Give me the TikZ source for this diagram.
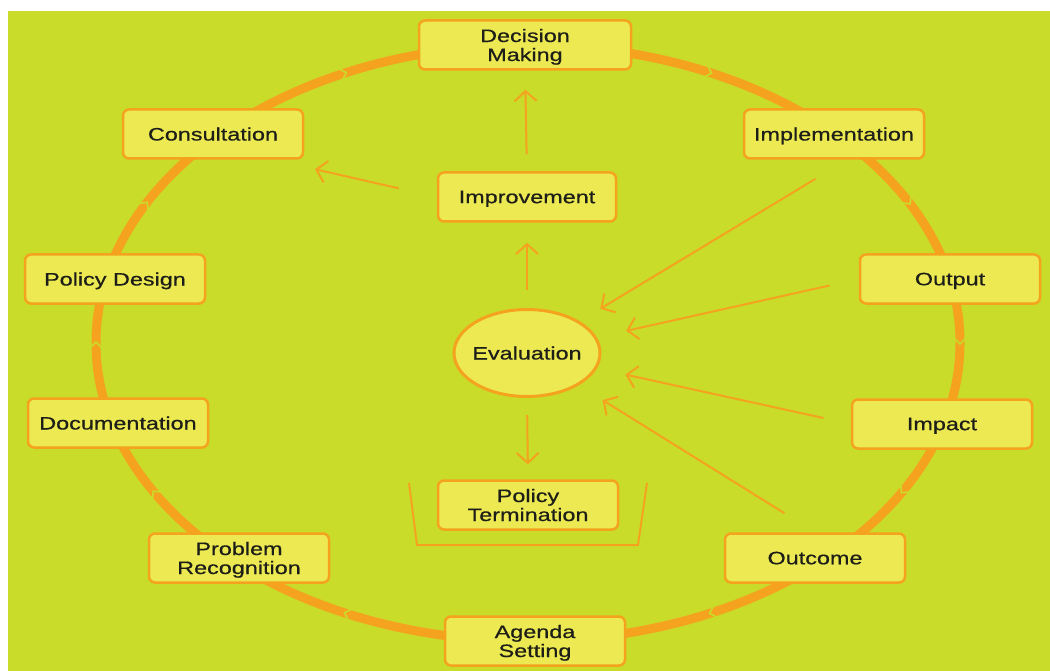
\documentclass[tikz,border=0pt]{standalone}
\usepackage{fontspec}
\setmainfont[FakeStretch=1.3,FakeBold=0.6]{Liberation Sans}
\usetikzlibrary{arrows.meta,calc,shapes.geometric}
\definecolor{bggreen}{RGB}{201,220,42}
\definecolor{boxfill}{RGB}{236,233,82}
\definecolor{ringor}{RGB}{245,163,30}
\definecolor{txt}{RGB}{30,30,24}
\begin{document}
\begin{tikzpicture}[x=1pt,y=-1pt,
  box/.style={draw=ringor, line width=2.5pt, fill=boxfill, rounded corners=6pt,
    minimum width=180pt, minimum height=49pt, inner sep=2pt, align=center,
    text depth=0pt, text=txt, font=\fontsize{18}{19}\selectfont},
  ringline/.style={draw=ringor, line width=9pt},
  notchline/.style={draw=bggreen, line width=1.6pt},
  arr/.style={draw=ringor, line width=2pt, -{Straight Barb[length=10pt,width=22pt]}},
  bracketline/.style={draw=ringor, line width=2pt},
]
\useasboundingbox (0,0) rectangle (1050,671);
\fill[white] (0,0) rectangle (1050,671);
\fill[bggreen] (8,11) rectangle (1050,671);
\draw[ringline] (528,343) ellipse [x radius=432, y radius=298];
\foreach \t in {0,30,65,115,150,180,208,245,295,332}{
  \pgfmathsetmacro\px{528+432*cos(\t)}
  \pgfmathsetmacro\py{343+298*sin(\t)}
  \pgfmathsetmacro\rot{atan2(-298*cos(\t),-432*sin(\t))}
  \draw[notchline, shift={(\px,\py)}, rotate=\rot] (-5pt,-6pt) -- (1pt,0pt) -- (-5pt,6pt);
}
\node[box, minimum width=212pt] (dm) at (525,45) {Decision\\Making};
\node[box] (impl) at (834,134) {Implementation};
\node[box] (out) at (950,279) {Output};
\node[box] (imp) at (942,424) {Impact};
\node[box] (outc) at (815,558) {Outcome};
\node[box] (as) at (535,641) {Agenda\\Setting};
\node[box] (pr) at (239,558) {Problem\\Recognition};
\node[box] (doc) at (118,423) {Documentation};
\node[box] (pd) at (115,279) {Policy Design};
\node[box] (cons) at (213,134) {Consultation};
\node[box, minimum width=178pt] (impr) at (527,197) {Improvement};
\node[box] (pt) at (528,505) {Policy\\Termination};
\node[ellipse, draw=ringor, line width=3pt, fill=boxfill, minimum width=146pt,
  minimum height=87pt, inner sep=0pt, text=txt, text depth=0pt,
  font=\fontsize{18}{19}\selectfont] (eval) at (527,353) {\makebox[0pt]{Evaluation}};
\draw[bracketline] (409,483) -- (417,545) -- (638,545) -- (647,483);
\draw[arr, shorten <=17pt, shorten >=19pt] (impr.north) -- (dm.south);
\draw[arr, shorten <=39pt, shorten >=11pt] (impr.west) -- ($(cons.south east)+(0,7)$);
\draw[arr, shorten <=18pt, shorten >=20pt] (eval.north) -- (impr.south);
\draw[arr, shorten <=17pt, shorten >=15pt] (eval.south) -- (pt.north);
\draw[arr, shorten <=37pt, shorten >=24pt] (impl.-63) -- (eval);
\draw[arr, shorten <=30pt, shorten >=30pt] (out.west) -- (eval);
\draw[arr, shorten <=28pt, shorten >=29pt] (imp.west) -- (eval);
\draw[arr, shorten <=36pt, shorten >=28pt] (outc.north) -- (eval);
\end{tikzpicture}
\end{document}
